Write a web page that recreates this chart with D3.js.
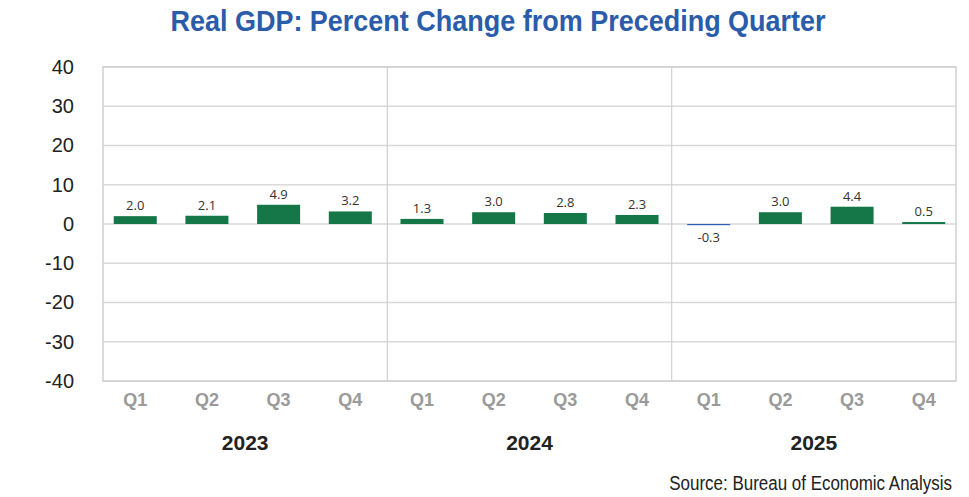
<!DOCTYPE html>
<html>
<head>
<meta charset="utf-8">
<script src="https://cdn.jsdelivr.net/npm/d3@7"></script>
<style>
  body { margin: 0; background: #fff; }
  svg { display: block; }
</style>
</head>
<body>
<script>
// Chart data
var years = ["2023", "2024", "2025"];
var quarters = ["Q1", "Q2", "Q3", "Q4"];
var values = [2.0, 2.1, 4.9, 3.2, 1.3, 3.0, 2.8, 2.3, -0.3, 3.0, 4.4, 0.5];
var yTicks = [40, 30, 20, 10, 0, -10, -20, -30, -40];

var width = 969, height = 497;
var margin = { top: 67, right: 13, bottom: 116, left: 103 };
var plotW = width - margin.left - margin.right,
    plotH = height - margin.top - margin.bottom;

// plain hyphen for negatives, like the original
var loc = d3.formatLocale({ decimal: ".", thousands: ",", grouping: [3], currency: ["$", ""], minus: "-" });
var fmt1 = loc.format(".1f"), fmt0 = loc.format("d");

// one entry per bar
var rows = [];
years.forEach(function (y) {
    quarters.forEach(function (q) {
        rows.push({ key: y + "-" + q, year: y, quarter: q, value: values[rows.length] });
    });
});

var svg = d3.select("body").append("svg")
    .attr("width", width)
    .attr("height", height);

var g = svg.append("g")
    .attr("transform", "translate(" + margin.left + "," + margin.top + ")");

var x = d3.scaleBand()
    .domain(rows.map(function (d) { return d.key; }))
    .range([0, plotW])
    .paddingInner(0.4)
    .paddingOuter(0.15);

var xYear = d3.scaleBand()
    .domain(years)
    .range([0, plotW]);

var y = d3.scaleLinear()
    .domain([-40, 40])
    .range([plotH, 0]);

// Gridlines
g.selectAll(".grid")
    .data(yTicks)
    .enter().append("line")
    .attr("x1", 0)
    .attr("x2", plotW)
    .attr("y1", function (d) { return y(d); })
    .attr("y2", function (d) { return y(d); })
    .attr("stroke", "#d9d9d9")
    .attr("stroke-width", 1.5);

// Year separators and plot border
g.selectAll(".sep")
    .data(years.slice(1))
    .enter().append("line")
    .attr("x1", function (d) { return xYear(d); })
    .attr("x2", function (d) { return xYear(d); })
    .attr("y1", 0)
    .attr("y2", plotH)
    .attr("stroke", "#d0d0d0")
    .attr("stroke-width", 1.2);

g.append("rect")
    .attr("width", plotW)
    .attr("height", plotH)
    .attr("fill", "none")
    .attr("stroke", "#d0d0d0")
    .attr("stroke-width", 1.5);

// Bars
g.selectAll(".bar")
    .data(rows)
    .enter().append("rect")
    .attr("class", "bar")
    .attr("x", function (d) { return x(d.key); })
    .attr("width", x.bandwidth())
    .attr("y", function (d) { return y(Math.max(0, d.value)); })
    .attr("height", function (d) { return Math.abs(y(d.value) - y(0)); })
    .attr("fill", function (d) { return d.value < 0 ? "#2f5fae" : "#157747"; });

// Value labels
g.selectAll(".lbl")
    .data(rows)
    .enter().append("text")
    .attr("x", function (d) { return x(d.key) + x.bandwidth() / 2; })
    .attr("y", function (d) { return d.value < 0 ? y(d.value) + 17 : y(d.value) - 6; })
    .attr("text-anchor", "middle")
    .attr("font-family", "'Open Sans', 'DejaVu Sans', sans-serif")
    .attr("font-size", 13)
    .attr("fill", "#333")
    .text(function (d) { return fmt1(d.value); });

// Y axis labels
var yAxis = g.append("g")
    .call(d3.axisLeft(y).tickValues(yTicks).tickSize(0).tickPadding(29).tickFormat(fmt0));
yAxis.select(".domain").remove();
yAxis.selectAll("text")
    .attr("font-family", "'Liberation Sans', Arial, sans-serif")
    .attr("font-size", 20)
    .attr("fill", "#222");

// Quarter labels
var xAxis = g.append("g")
    .attr("transform", "translate(0," + plotH + ")")
    .call(d3.axisBottom(x).tickSize(0).tickPadding(12)
        .tickFormat(function (k) { return k.split("-")[1]; }));
xAxis.select(".domain").remove();
xAxis.selectAll("text")
    .attr("font-family", "'Liberation Sans', Arial, sans-serif")
    .attr("font-size", 18)
    .attr("font-weight", "bold")
    .attr("fill", "#9a9a9a");

// Year labels
g.selectAll(".year")
    .data(years)
    .enter().append("text")
    .attr("x", function (d) { return xYear(d) + xYear.bandwidth() / 2; })
    .attr("y", plotH + 69)
    .attr("text-anchor", "middle")
    .attr("font-family", "'Liberation Sans', Arial, sans-serif")
    .attr("font-size", 21)
    .attr("font-weight", "bold")
    .attr("fill", "#222")
    .text(function (d) { return d; });

// Title (condensed look by squeezing horizontally)
svg.append("text")
    .attr("transform", "translate(498,31) scale(0.9,1)")
    .attr("text-anchor", "middle")
    .attr("font-family", "'Liberation Sans', Arial, sans-serif")
    .attr("font-size", 30)
    .attr("font-weight", "bold")
    .attr("fill", "#2a5caa")
    .text("Real GDP: Percent Change from Preceding Quarter");

// Source
svg.append("text")
    .attr("transform", "translate(952,490) scale(0.87,1)")
    .attr("text-anchor", "end")
    .attr("font-family", "'Liberation Sans', Arial, sans-serif")
    .attr("font-size", 19.5)
    .attr("fill", "#222")
    .text("Source: Bureau of Economic Analysis");
</script>
</body>
</html>
